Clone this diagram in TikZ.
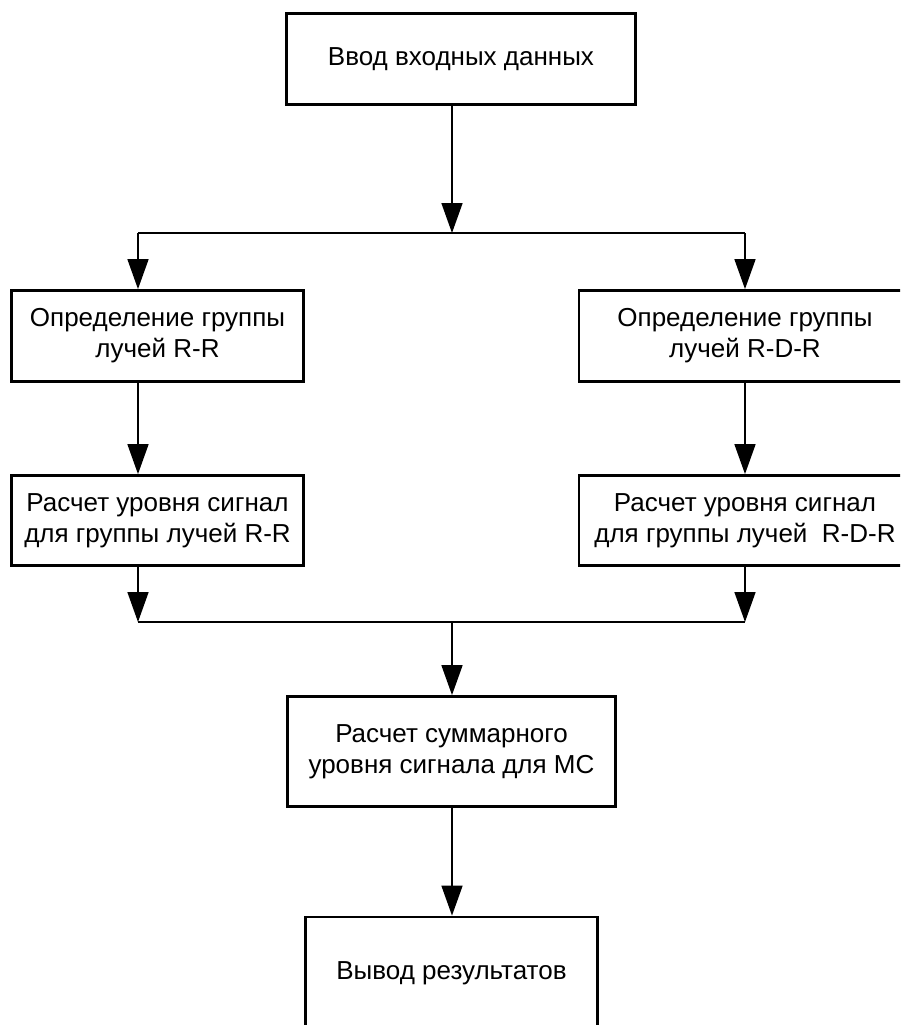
\documentclass[tikz,border=0pt]{standalone}
\usepackage{fontspec}
\setmainfont{Liberation Sans}
\usetikzlibrary{arrows.meta}
\begin{document}
\begin{tikzpicture}[x=1pt,y=-1pt,
  box/.style={draw,line width=2.8pt,align=center,inner sep=0pt,font=\fontsize{26}{31}\selectfont},
  conn/.style={line width=1.6pt,-{Triangle[length=30pt,width=21pt]}},
  line/.style={line width=1.6pt}]
\useasboundingbox (0,0) rectangle (900,1025);
\clip (0,0) rectangle (900,1025);
\node[box,minimum width=349pt,minimum height=91pt] (inp) at (461,59) {Ввод входных данных};
\node[box,minimum width=292pt,minimum height=91pt] (rr1) at (157.5,336) {Определение группы\\лучей R-R};
\node[box,minimum width=332pt,minimum height=91pt] (rdr1) at (745,336) {Определение группы\\лучей R-D-R};
\node[box,minimum width=292pt,minimum height=90pt] (rr2) at (157.5,520.5) {Расчет уровня сигнал\\для группы лучей R-R};
\node[box,minimum width=332pt,minimum height=90pt] (rdr2) at (745,520.5) {Расчет уровня сигнал\\для группы лучей \ R-D-R};
\node[box,minimum width=328pt,minimum height=110pt] (sum) at (451.5,751.5) {Расчет суммарного\\уровня сигнала для МС};
\node[box,minimum width=292pt,minimum height=112pt] (res) at (451.5,973) {Вывод результатов};
\coordinate (split) at (452,233);
\coordinate (jl) at (138,233);
\coordinate (jr) at (745,233);
\coordinate (merge) at (452,622);
\coordinate (ml) at (138,622);
\coordinate (mr) at (745,622);
\draw[conn] (inp.south -| split) -- (split);
\draw[line] (jl) -- (jr);
\draw[conn] (jl) -- (jl |- rr1.north);
\draw[conn] (jr) -- (jr |- rdr1.north);
\draw[conn] (jl |- rr1.south) -- (jl |- rr2.north);
\draw[conn] (jr |- rdr1.south) -- (jr |- rdr2.north);
\draw[conn] (ml |- rr2.south) -- (ml);
\draw[conn] (mr |- rdr2.south) -- (mr);
\draw[line] (ml) -- (mr);
\draw[conn] (merge) -- (merge |- sum.north);
\draw[conn] (merge |- sum.south) -- (merge |- res.north);
\end{tikzpicture}
\end{document}
